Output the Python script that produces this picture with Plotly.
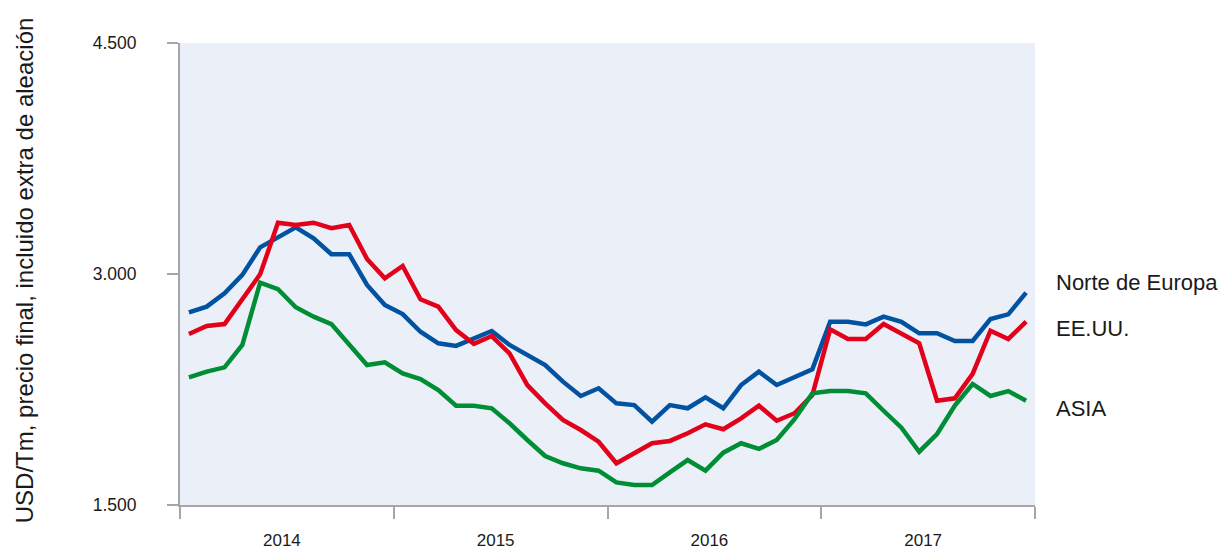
import plotly.graph_objects as go

# monthly values, Jan 2014 - Dec 2017 (USD/Tm)
months = list(range(48))
years = ["2014", "2015", "2016", "2017"]

norte_europa = [
    2751, 2788, 2875, 2994, 3173, 3242, 3303, 3232, 3128, 3128, 2929, 2799,
    2740, 2625, 2550, 2533, 2583, 2630, 2539, 2474, 2409, 2301, 2208, 2258,
    2160, 2149, 2041, 2149, 2128, 2199, 2128, 2279, 2366, 2279, 2333, 2381,
    2690, 2690, 2673, 2723, 2690, 2615, 2615, 2565, 2565, 2708, 2738, 2879,
]
eeuu = [
    2610, 2662, 2675, 2831, 2998, 3333, 3318, 3333, 3297, 3318, 3098, 2972,
    3052, 2836, 2788, 2636, 2546, 2597, 2485, 2279, 2160, 2052, 1987, 1911,
    1771, 1836, 1901, 1916, 1966, 2024, 1992, 2063, 2145, 2047, 2096, 2214,
    2641, 2578, 2578, 2675, 2615, 2550, 2177, 2193, 2351, 2632, 2578, 2690,
]
asia = [
    2329, 2366, 2394, 2539, 2944, 2901, 2784, 2723, 2675, 2539, 2409, 2427,
    2355, 2318, 2247, 2145, 2145, 2128, 2031, 1922, 1818, 1771, 1738, 1723,
    1647, 1630, 1630, 1712, 1792, 1723, 1840, 1901, 1864, 1922, 2057, 2225,
    2240, 2240, 2225, 2112, 2002, 1846, 1961, 2145, 2286, 2208, 2240, 2177,
]

series = [
    ("Norte de Europa", norte_europa, "#0152A0"),
    ("EE.UU.", eeuu, "#E2001A"),
    ("ASIA", asia, "#008D36"),
]

FONT = "Liberation Sans, Arial, sans-serif"
AXIS_GREY = "#A6A6A6"
TEXT = "#1a1a1a"

fig = go.Figure()
x = [m + 0.5 for m in months]
for name, values, color in series:
    fig.add_trace(go.Scatter(
        x=x, y=values, mode="lines", name=name,
        line=dict(color=color, width=4.5),
    ))

# labels to the right of the plot instead of a legend
labels = [("Norte de Europa", 0.481), ("EE.UU.", 0.383), ("ASIA", 0.208)]
for text, yp in labels:
    fig.add_annotation(
        x=1.0222, xref="paper", y=yp, yref="paper", text=text,
        showarrow=False, xanchor="left", yanchor="middle",
        font=dict(family=FONT, size=22, color=TEXT),
    )

fig.add_annotation(
    x=-0.182, xref="paper", y=0.509, yref="paper",
    text="USD/Tm, precio final, incluido extra de aleación",
    textangle=-90, showarrow=False, xanchor="center", yanchor="middle",
    font=dict(family=FONT, size=24, color=TEXT),
)

# the page body adds 8px around the figure, so the figure is a bit smaller
fig.update_layout(
    width=1219, height=545,
    margin=dict(l=172, r=192, t=35, b=48),
    paper_bgcolor="white",
    plot_bgcolor="#EBF0F8",
    showlegend=False,
    font=dict(family=FONT, color=TEXT),
)

fig.update_xaxes(
    range=[0, 48], automargin=False,
    tickvals=[5.72, 17.72, 29.72, 41.72], ticktext=years,
    ticks="", showgrid=False, zeroline=False,
    showline=True, linecolor=AXIS_GREY, linewidth=2,
    tickfont=dict(size=17), ticklabelstandoff=19,
    minor=dict(tick0=0, dtick=12, ticks="outside", ticklen=12,
               tickcolor=AXIS_GREY, tickwidth=1.5, showgrid=False),
)

fig.update_yaxes(
    range=[1500, 4500], automargin=False,
    tickvals=[1500, 3000, 4500], ticktext=["1.500", "3.000", "4.500"],
    ticks="outside", ticklen=11, tickcolor=AXIS_GREY, tickwidth=2,
    showgrid=False, zeroline=False,
    showline=True, linecolor=AXIS_GREY, linewidth=2,
    tickfont=dict(size=17.5), ticklabelstandoff=27,
)

fig.write_html("out.html")
